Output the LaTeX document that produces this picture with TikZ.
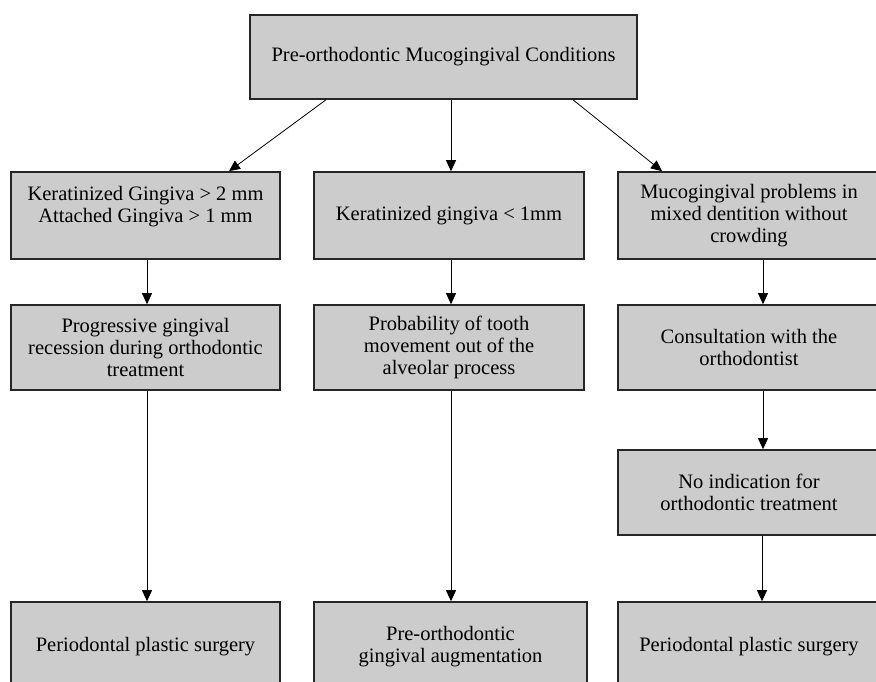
\documentclass[tikz,border=0pt]{standalone}
\usepackage{fontspec}
\setmainfont{Liberation Serif}
\usepackage{tikz}
\usetikzlibrary{shapes,arrows.meta,positioning}
\definecolor{boxgray}{HTML}{CCCCCC}
\tikzstyle{box} = [draw=black!85, line width=1.6pt, fill=boxgray, rectangle,
    align=center, font=\fontsize{20.5}{22}\selectfont, inner sep=0pt]
\tikzstyle{line} = [draw, line width=0.8pt, -{Triangle[length=11pt,width=10pt]}]

\begin{document}
\begin{tikzpicture}[x=1pt, y=-1pt, node distance = 132pt]
  \useasboundingbox (0,0) rectangle (876,681);
  \node [box, minimum width=387pt, minimum height=84pt] (pre) at (443.5,57)
  {Pre-orthodontic Mucogingival Conditions};
  % second row
  \node [box, minimum width=269pt, minimum height=87pt] (kg2) at (145.5,215.5)
  {Keratinized Gingiva > 2 mm\\ Attached Gingiva > 1 mm\\ \mbox{}};
  \node [box, minimum width=270pt, minimum height=87pt, right of=kg2, node distance=303.5pt]
  (kg1) {Keratinized gingiva < 1mm};
  \node [box, minimum width=262pt, minimum height=87pt, right of=kg1, node distance=300pt]
  (mix) {Mucogingival problems in\\ mixed dentition without\\ crowding};
  % third row
  \node [box, minimum width=269pt, minimum height=85pt, below of=kg2] (prog)
  {Progressive gingival\\ recession during orthodontic\\ treatment};
  \node [box, minimum width=270pt, minimum height=85pt, below of=kg1] (prob)
  {Probability of tooth\\ movement out of the\\ alveolar process};
  \node [box, minimum width=262pt, minimum height=85pt, below of=mix] (cons)
  {Consultation with the\\ orthodontist};
  \node [box, minimum width=262pt, minimum height=85pt, below of=cons, node distance=145pt]
  (noind) {No indication for\\ orthodontic treatment};
  % last row
  \node [box, minimum width=269pt, minimum height=90pt, below of=prog, node distance=299.5pt]
  (pps1) {Periodontal plastic surgery};
  \node [box, minimum width=273pt, minimum height=90pt, below of=prob, node distance=299.5pt,
  xshift=1.5pt] (aug) {Pre-orthodontic\\ gingival augmentation};
  \node [box, minimum width=262pt, minimum height=90pt, below of=noind, node distance=154.5pt]
  (pps2) {Periodontal plastic surgery};

  \draw [line] ([xshift=-117.5pt]pre.south) -- ([xshift=83.5pt]kg2.north);
  \draw [line] ([xshift=7.5pt]pre.south) -- ([xshift=2pt]kg1.north);
  \draw [line] ([xshift=129.5pt]pre.south) -- ([xshift=-87pt]mix.north);
  \draw [line] ([xshift=1.5pt]kg2.south) -- ([xshift=1.5pt]prog.north);
  \draw [line] ([xshift=2pt]kg1.south) -- ([xshift=2pt]prob.north);
  \draw [line] ([xshift=14pt]mix.south) -- ([xshift=14pt]cons.north);
  \draw [line] ([xshift=1.5pt]prog.south) -- ([xshift=1.5pt]pps1.north);
  \draw [line] ([xshift=2pt]prob.south) -- ([xshift=0.5pt]aug.north);
  \draw [line] ([xshift=14pt]cons.south) -- ([xshift=14pt]noind.north);
  \draw [line] ([xshift=13pt]noind.south) -- ([xshift=13pt]pps2.north);
\end{tikzpicture}
\end{document}
